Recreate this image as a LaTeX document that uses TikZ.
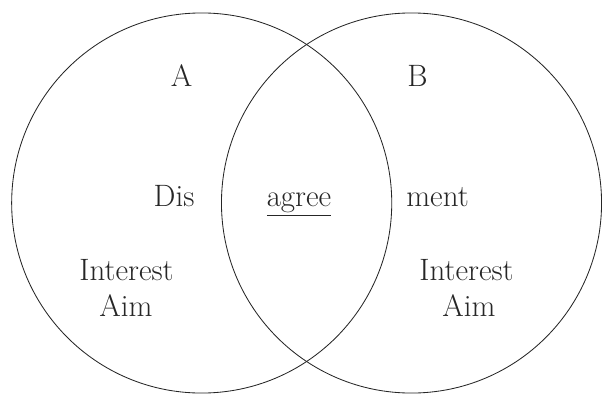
\documentclass[tikz,border=0pt]{standalone}
\begin{document}
\begin{tikzpicture}[
  x=0.025cm, y=-0.025cm,
  setcircle/.style={circle, draw=black!85, line width=0.6pt,
                    minimum size=9.5cm, inner sep=0pt},
  lbl/.style={anchor=base, inner sep=0pt, text=black!85,
              font=\fontsize{22}{26}\selectfont}
]
  \useasboundingbox (0,0) rectangle (602,393);

  % Mengen
  \node[setcircle] (setA) at (201.7,203) {};
  \node[setcircle] (setB) at (411.5,203) {};

  % Namen
  \node[lbl] (nameA) at (181.7,86.5) {A};
  \node[lbl] (nameB) at (417.5,86.5) {B};

  % Wort in der Mitte
  \node[lbl] (dis)   at (174,206.7) {Dis};
  \node[lbl] (agree) at (299,206.7) {\underline{agree}};
  \node[lbl] (ment)  at (437.5,206.7) {ment};

  % Interessen
  \node[lbl] (interestA) at (126.5,280) {Interest};
  \node[lbl] (aimA)      at (126,316.7) {Aim};
  \node[lbl] (interestB) at (466.5,280) {Interest};
  \node[lbl] (aimB)      at (469,316.7) {Aim};
\end{tikzpicture}
\end{document}
